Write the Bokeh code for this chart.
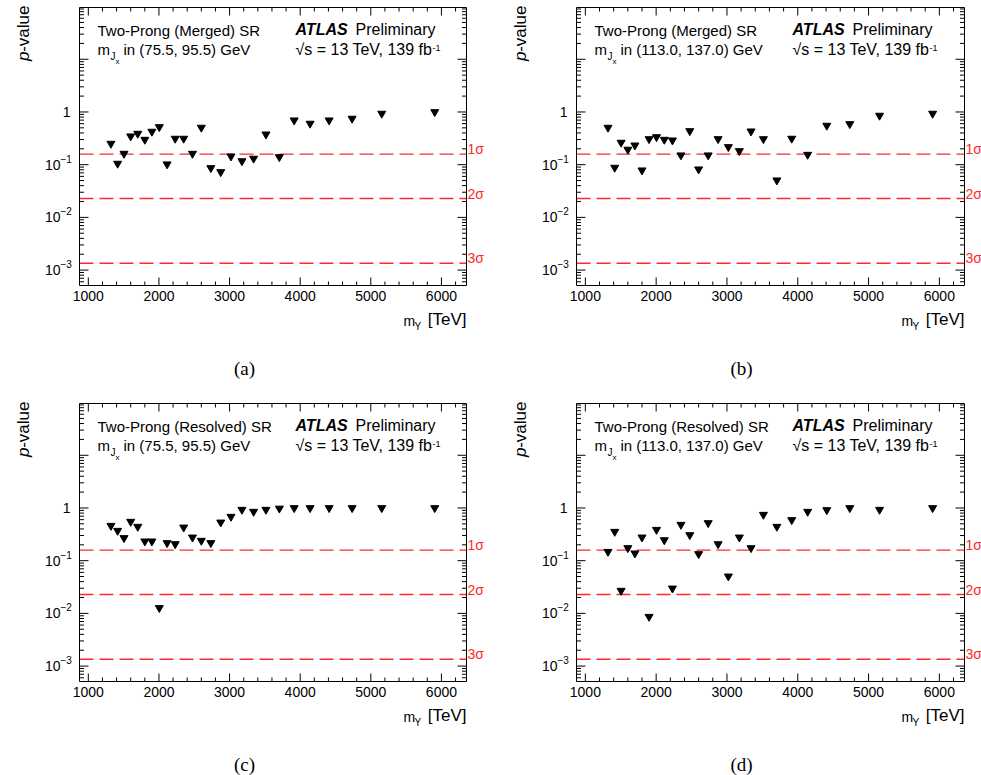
import math

from bokeh.embed import file_html
from bokeh.layouts import column, row
from bokeh.models import Label, Range1d
from bokeh.plotting import figure
from bokeh.resources import INLINE

# Resonance mass hypotheses m_Y [GeV] scanned in each signal region
M_Y = [1320, 1415, 1505, 1600, 1700, 1800, 1900, 2005, 2115, 2230, 2350, 2475, 2600,
       2735, 2875, 3020, 3175, 3340, 3515, 3705, 3915, 4140, 4410, 4735, 5155, 5905]

# Local p-values for the four signal regions
P_MERGED_W = [0.251, 0.105, 0.162, 0.346, 0.389, 0.299, 0.425, 0.519, 0.102, 0.313, 0.313,
              0.162, 0.506, 0.0866, 0.0727, 0.144, 0.117, 0.131, 0.377, 0.140, 0.696,
              0.603, 0.696, 0.750, 0.933, 1.0]
P_MERGED_H = [0.506, 0.0881, 0.263, 0.194, 0.233, 0.0783, 0.307, 0.335, 0.299, 0.290,
              0.151, 0.436, 0.0818, 0.151, 0.307, 0.217, 0.182, 0.430, 0.307, 0.0506,
              0.313, 0.155, 0.552, 0.592, 0.855, 0.933]
P_RESOLVED_W = [0.461, 0.371, 0.270, 0.550, 0.442, 0.233, 0.233, 0.0127, 0.217, 0.207,
                0.428, 0.277, 0.240, 0.217, 0.533, 0.684, 0.929, 0.851, 0.929, 0.98,
                1.0, 1.0, 1.0, 1.0, 1.0, 1.0]
P_RESOLVED_H = [0.148, 0.355, 0.027, 0.174, 0.138, 0.277, 0.00865, 0.387, 0.246, 0.0298,
                0.482, 0.307, 0.134, 0.519, 0.207, 0.0504, 0.277, 0.174, 0.746, 0.442,
                0.592, 0.851, 0.916, 1.0, 0.929, 1.0]

TAGS = ["(a)", "(b)", "(c)", "(d)"]
REGIONS = ["Two-Prong (Merged) SR", "Two-Prong (Merged) SR",
           "Two-Prong (Resolved) SR", "Two-Prong (Resolved) SR"]
WINDOWS = ["in (75.5, 95.5) GeV", "in (113.0, 137.0) GeV",
           "in (75.5, 95.5) GeV", "in (113.0, 137.0) GeV"]
SERIES = [P_MERGED_W, P_MERGED_H, P_RESOLVED_W, P_RESOLVED_H]

# One-sided p-values of the 1, 2 and 3 sigma reference lines
SIGMA_P = [0.1587, 0.02275, 0.00135]
SIGMA_TXT = ["1σ", "2σ", "3σ"]

X_TICKS = [1000, 2000, 3000, 4000, 5000, 6000]
X_TICK_TEXT = ["1000", "2000", "3000", "4000", "5000", "6000"]
Y_TICKS = [1e-3, 1e-2, 1e-1, 1.0, 10.0]
Y_TICK_TEXT = {1.0: ("1", None), 1e-1: ("10", "−1"), 1e-2: ("10", "−2"), 1e-3: ("10", "−3")}

# axis extent of every panel
X0, X1 = 875, 6355
Y0, Y1 = 5.1e-4, 96.0

X_MINOR = [t for t in range(1000, 6400, 200) if t % 1000]
Y_MINOR = [k * 10.0 ** e for e in range(-4, 2) for k in range(2, 10)
           if Y0 < k * 10.0 ** e < Y1]

SANS = "Liberation Sans"
SERIF = "Liberation Serif"
RED = "#ff2a2a"


def label(p, text, x, y, dx, dy, size, **kw):
    kw.setdefault("text_font", SANS)
    kw.setdefault("text_color", "black")
    p.add_layout(Label(x=x, y=y, x_offset=dx, y_offset=dy, text=text,
                       text_font_size=f"{size}px", **kw))


def make_panel(i):
    left_col = i % 2 == 0
    top_row = i < 2
    width = 490 if left_col else 491
    height = 388 if top_row else 387
    # margins (px) around the axes box; the canvas itself spans the whole figure
    m_left = 79 if left_col else 86
    box_w = 387 if left_col else 388
    m_right = width - m_left - box_w
    m_top = 7 if top_row else 15
    box_h = 278
    m_bottom = height - m_top - box_h

    kx = (X1 - X0) / box_w                 # data units per px along x
    ky = math.log10(Y1 / Y0) / box_h       # decades per px along y

    p = figure(width=width, height=height, y_axis_type="log",
               x_range=Range1d(X0 - m_left * kx, X1 + m_right * kx),
               y_range=Range1d(Y0 * 10 ** (-m_bottom * ky), Y1 * 10 ** (m_top * ky)),
               x_axis_location=None, y_axis_location=None,
               output_backend="svg", toolbar_location=None)
    p.min_border = 0
    p.grid.visible = False
    p.outline_line_color = None
    p.background_fill_color = "white"
    p.border_fill_color = "white"

    def up(yv, px):
        return yv * 10 ** (px * ky)

    # significance reference lines
    n_s = len(SIGMA_P)
    p.segment(x0=[X0] * n_s, x1=[X1] * n_s, y0=SIGMA_P, y1=SIGMA_P,
              line_color=RED, line_width=1.4, line_dash="14 6")
    for sp, st in zip(SIGMA_P, SIGMA_TXT):
        label(p, st, X1, sp, 1, 5, 14, text_color=RED, text_baseline="middle")

    # axes box with inward ticks on all four sides
    p.quad(left=[X0], right=[X1], bottom=[Y0], top=[Y1],
           fill_color=None, line_color="black", line_width=1)
    for ticks, ln in ((X_TICKS, 8), (X_MINOR, 4)):
        n = len(ticks)
        p.segment(x0=ticks, x1=ticks, y0=[Y0] * n, y1=[up(Y0, ln)] * n,
                  line_color="black", line_width=1)
        p.segment(x0=ticks, x1=ticks, y0=[Y1] * n, y1=[up(Y1, -ln)] * n,
                  line_color="black", line_width=1)
    for ticks, ln in ((Y_TICKS, 9), (Y_MINOR, 4.5)):
        n = len(ticks)
        p.segment(x0=[X0] * n, x1=[X0 + ln * kx] * n, y0=ticks, y1=ticks,
                  line_color="black", line_width=1)
        p.segment(x0=[X1] * n, x1=[X1 - ln * kx] * n, y0=ticks, y1=ticks,
                  line_color="black", line_width=1)

    p.scatter(M_Y, SERIES[i], marker="inverted_triangle", size=8,
              fill_color="black", line_color="black")

    # tick labels
    for xv, xt in zip(X_TICKS, X_TICK_TEXT):
        label(p, xt, xv, Y0, 0, -10, 14, text_align="center", text_baseline="middle")
    for yv, (base, exp) in Y_TICK_TEXT.items():
        if exp is None:
            label(p, base, X0, yv, -9, 0, 14, text_align="right", text_baseline="middle")
        else:
            label(p, base, X0, yv, -19, 0, 14, text_align="right", text_baseline="middle")
            label(p, exp, X0, yv, -19, 6, 10, text_align="left", text_baseline="middle")

    # axis titles
    label(p, "-value", X0, Y1, -56, 2, 17, angle=math.pi / 2,
          text_align="right", text_baseline="middle")
    label(p, "p", X0, Y1, -56, -44, 17, angle=math.pi / 2, text_font_style="italic",
          text_align="right", text_baseline="middle")
    label(p, "[TeV]", X1, Y0, 0, -43, 17, text_align="right")
    label(p, "m", X1, Y0, -63, -43, 14)
    label(p, "Y", X1, Y0, -52, -46, 10)

    # region description
    label(p, REGIONS[i], X0, Y1, 18, -31, 15)
    label(p, "m", X0, Y1, 18, -50, 15)
    label(p, "J", X0, Y1, 31, -54, 10)
    label(p, "x", X0, Y1, 36, -58, 8)
    label(p, WINDOWS[i], X0, Y1, 44, -50, 15)

    # experiment label
    label(p, "ATLAS", X0, Y1, 216, -30, 16, text_font_style="bold italic")
    label(p, "Preliminary", X0, Y1, 276, -30, 16)
    label(p, "√s = 13 TeV, 139 fb", X0, Y1, 216, -50, 16)
    label(p, "-1", X0, Y1, 353, -43, 9)

    # sub-figure caption
    label(p, TAGS[i], X0, Y0, 165, -83, 19, text_font=SERIF,
          text_align="center", text_baseline="middle")
    return p


panels = [make_panel(i) for i in range(4)]
layout = column(row(panels[0], panels[1]), row(panels[2], panels[3]))

open("out.html", "w").write(file_html(layout, INLINE))
